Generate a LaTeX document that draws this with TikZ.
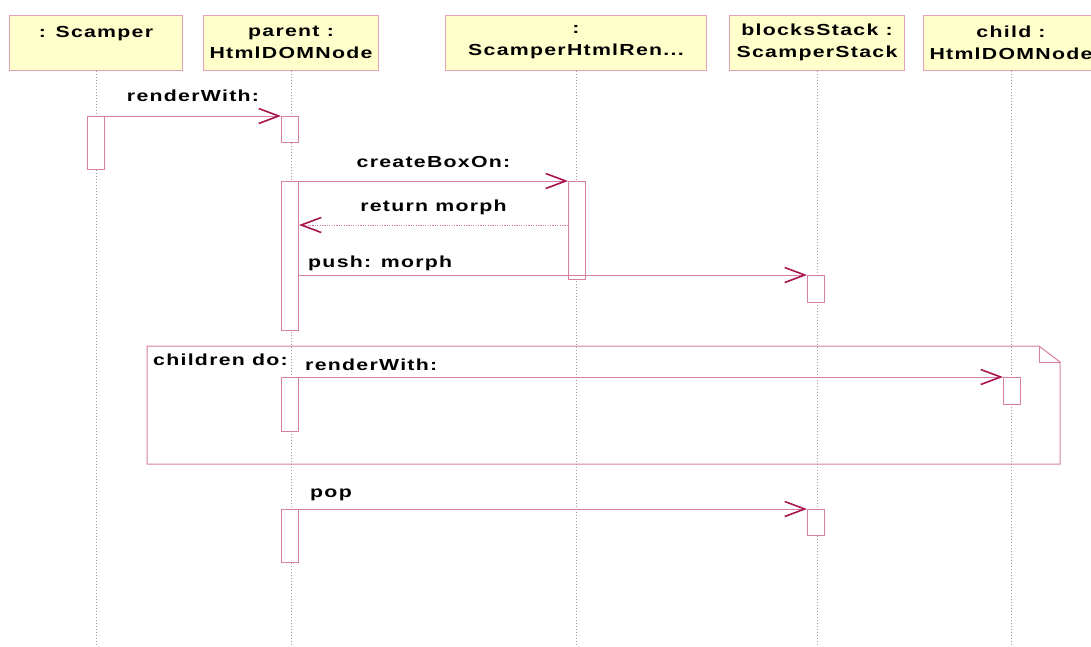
\documentclass[tikz,border=0pt]{standalone}
\usepackage{fontspec}
\setmainfont{Liberation Sans}[FakeStretch=1.33,LetterSpace=8]
\usetikzlibrary{arrows.meta,calc}
\definecolor{umlline}{HTML}{D6809E}
\definecolor{umlhead}{HTML}{A8144E}
\definecolor{umlfill}{HTML}{FFFFCC}
\definecolor{umlborder}{HTML}{E3A3B6}
\definecolor{lifegray}{HTML}{A0A0A0}
\begin{document}
\begin{tikzpicture}[x=1pt,y=-1pt,
  txt/.style={font=\fontsize{16}{22}\selectfont\bfseries},
  hdr/.style={txt,draw=umlborder,fill=umlfill,line width=1pt,align=center,
    minimum height=55pt,inner sep=0pt},
  lifeline/.style={draw=lifegray,line width=0.8pt,dash pattern=on 1.5pt off 1.5pt},
  act/.style={draw=umlline,fill=white,line width=1pt,minimum width=17pt,inner sep=0pt,anchor=north},
  msg/.style={draw=umlline,line width=1pt,
    -{Straight Barb[length=20pt,width=15pt,line width=1.6pt,color=umlhead]}},
  ret/.style={msg,dash pattern=on 1.2pt off 1.2pt},
  lbl/.style={txt,inner sep=0pt}]
\useasboundingbox (0,0) rectangle (1091,646);
\clip (0,0) rectangle (1091,646);

% participant heads
\node[hdr,minimum width=173pt] (hS) at (96,42.5) {: Scamper\\\phantom{X}};
\node[hdr,minimum width=175pt] (hP) at (291,42.5) {parent :\\HtmlDOMNode};
\node[hdr,minimum width=261pt] (hR) at (576,42.5) {:\\ScamperHtmlRen...};
\node[hdr,minimum width=175pt] (hB) at (817,42.5) {blocksStack :\\ScamperStack};
\node[hdr,minimum width=176pt] (hC) at (1011,42.5) {child :\\HtmlDOMNode};

% lifelines
\coordinate (bot) at (0,646);
\foreach \h in {hS,hP,hR,hB,hC}
  \draw[lifeline] (\h.south) -- (\h.south |- bot);

% loop frame with folded corner
\coordinate (fTL) at (147,346);
\coordinate (fFold) at (1039,346);
\coordinate (fCorner) at (1060,362);
\coordinate (fBR) at (1060,464);
\draw[umlline,line width=1pt] (fTL) -- (fFold) -- (fCorner) -- (fBR) -- (fTL |- fBR) -- cycle;
\draw[umlline,line width=0.8pt] (fFold) -- (fFold |- fCorner) -- (fCorner);
\node[lbl,anchor=base west] (loopLbl) at (153,365) {children do:};

% activation bars
\node[act,minimum height=53pt] (aS) at (96,116) {};
\node[act,minimum height=26pt] (aP1) at (290,116) {};
\node[act,minimum height=149pt] (aP2) at (290,181) {};
\node[act,minimum height=98pt] (aR) at (577,181) {};
\node[act,minimum height=27pt] (aB1) at (816,275) {};
\node[act,minimum height=54pt] (aP3) at (290,377) {};
\node[act,minimum height=27pt] (aC) at (1012,377) {};
\node[act,minimum height=53pt] (aP4) at (290,509) {};
\node[act,minimum height=26pt] (aB2) at (816,509) {};

% messages
\draw[msg] (aS.north east) -- (aP1.north west);
\node[lbl,anchor=base] (l1) at ($(aS.north east)!0.5!(aP1.north west)+(0,-15)$) {renderWith:};

\draw[msg] (aP2.north east) -- (aR.north west);
\node[lbl,anchor=base] (l2) at ($(aP2.north east)!0.5!(aR.north west)+(0,-14)$) {createBoxOn:};

\draw[ret] ($(aR.north west)+(0,44)$) -- ($(aP2.north east)+(0,44)$);
\node[lbl,anchor=base] (l3) at ($(aP2.north east)!0.5!(aR.north west)+(0,30)$) {return morph};

\draw[msg] ($(aP2.north east)+(0,94)$) -- (aB1.north west);
\node[lbl,anchor=base west] (l4) at ($(aP2.north east)+(9,86)$) {push: morph};

\draw[msg] (aP3.north east) -- (aC.north west);
\node[lbl,anchor=base west] (l5) at ($(aP3.north east)+(6,-7)$) {renderWith:};

\draw[msg] (aP4.north east) -- (aB2.north west);
\node[lbl,anchor=base west] (l6) at ($(aP4.north east)+(11,-12)$) {pop};
\end{tikzpicture}
\end{document}
